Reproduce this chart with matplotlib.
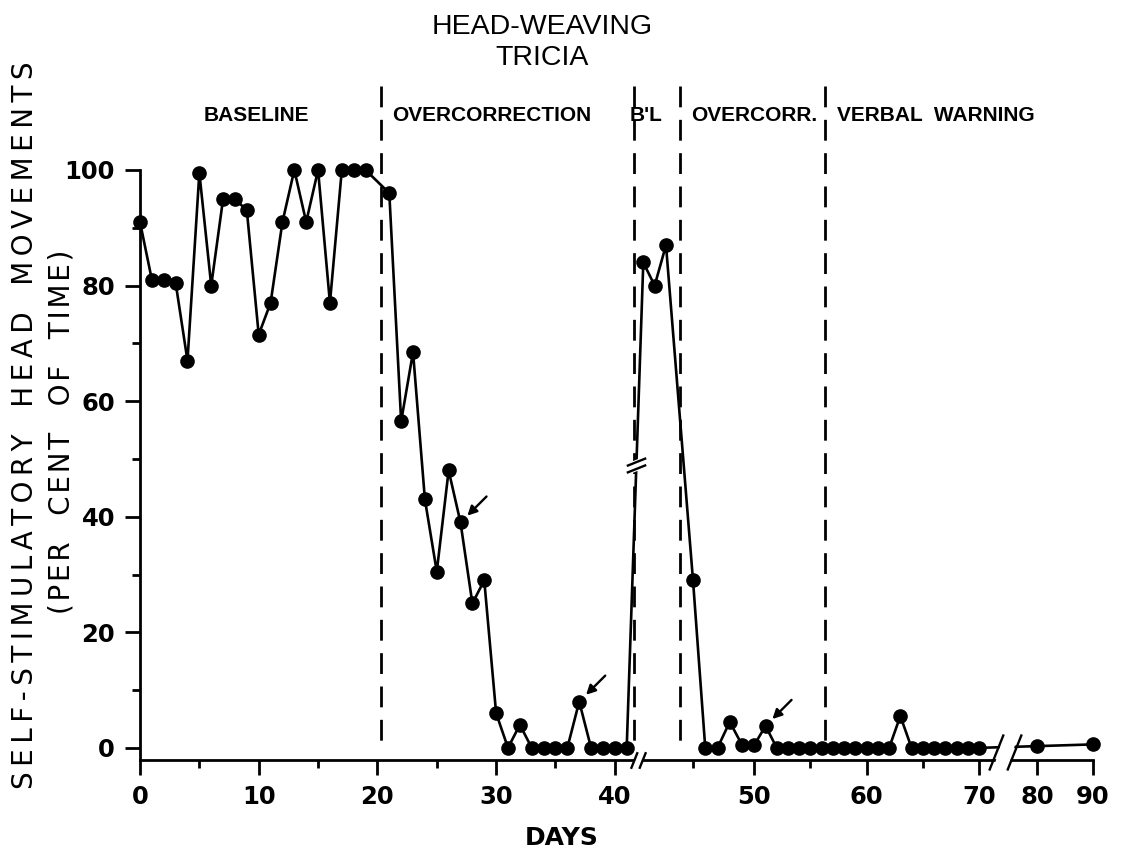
import numpy as np
import matplotlib
matplotlib.use('Agg')
import matplotlib.pyplot as plt
from matplotlib.path import Path
from matplotlib import font_manager

# ---- data ----
baseline_days = list(range(0, 20))
baseline_vals = [91, 81, 81, 80.5, 67, 99.5, 80, 95, 95, 93,
                 71.5, 77, 91, 100, 91, 100, 77, 100, 100, 100]

overcorr_days = list(range(21, 42))
overcorr_vals = [96, 56.5, 68.5, 43, 30.5, 48, 39, 25, 29, 6,
                 0, 4, 0, 0, 0, 0, 8, 0, 0, 0, 0]

bl2_days = [42, 43, 44]
bl2_vals = [84, 80, 87]

overcorr2_days = list(range(45, 57))
overcorr2_vals = [29, 0, 0, 4.5, 0.5, 0.5, 3.8, 0, 0, 0, 0, 0]

verbal_days = list(range(57, 71)) + [80, 90]
verbal_vals = [0, 0, 0, 0, 0, 0, 5.5, 0, 0, 0, 0, 0, 0, 0, 0.3, 0.6]

arrow_days = [27, 37, 51]

phase_names = ['BASELINE', 'OVERCORRECTION', "B'L", 'OVERCORR.', 'VERBAL  WARNING']
phase_label_x = [9.8, 29.6, 42.2, 50.0, 66.2]
phase_lines = [20.3, 41.45, 44.5, 56.3]

x_major = [0, 10, 20, 30, 40, 50, 60, 70, 80, 90]
x_minor = [5, 15, 25, 35, 45, 55, 65]
y_major = [0, 20, 40, 60, 80, 100]
y_minor = [10, 30, 50, 70, 90]

days = baseline_days + overcorr_days + bl2_days + overcorr2_days + verbal_days
vals = baseline_vals + overcorr_vals + bl2_vals + overcorr2_vals + verbal_vals
lookup = dict(zip(days, vals))

# broken day axis: piecewise linear (break after day 41 and after day 70)
DAY_KNOTS = [0, 41, 42, 44, 45, 50, 70, 80, 90]
POS_KNOTS = [0, 486.7, 503.3, 526, 553, 614.3, 839, 897, 953]


def fwd(d):
    return np.interp(d, DAY_KNOTS, POS_KNOTS)


def inv(p):
    return np.interp(p, POS_KNOTS, DAY_KNOTS)


def has_font(name):
    try:
        font_manager.findfont(name, fallback_to_default=False)
        return True
    except ValueError:
        return False


narrow = 'Liberation Sans Narrow' if has_font('Liberation Sans Narrow') else 'Liberation Sans'
title_size = 24 if narrow == 'Liberation Sans Narrow' else 20.5


def spaced(text, sep='\u2009', gap='   '):
    # letter-spaced words, wider gaps between words
    return gap.join(sep.join(w) for w in text.split())


plt.rcParams['lines.scale_dashes'] = False

fig = plt.figure(figsize=(11.24, 8.52), dpi=100)
ax = fig.add_axes([140 / 1124, 92 / 852, 953 / 1124, 590 / 852])
ax.set_xscale('function', functions=(fwd, inv))
ax.set_xlim(0, 90)
ax.set_ylim(-2.1, 100)

for s in ['top', 'right']:
    ax.spines[s].set_visible(False)
for s in ['left', 'bottom']:
    ax.spines[s].set_linewidth(2)

ax.plot(days, vals, '-o', color='black', lw=1.9, ms=9.5, clip_on=False, zorder=3)

# phase change lines
for x in phase_lines:
    ax.plot([x, x], [114.5, 0], color='black', lw=2, dashes=(15, 9),
            clip_on=False, zorder=2)

for name, x in zip(phase_names, phase_label_x):
    ax.text(x, 109.5, name, ha='center', va='center', fontsize=15,
            family=narrow, fontweight='bold', clip_on=False)

# arrows
for d in arrow_days:
    ax.annotate('', xy=(d, lookup[d]), xytext=(26, 26), textcoords='offset pixels',
                arrowprops=dict(arrowstyle='-|>,head_length=0.55,head_width=0.28',
                                color='black', lw=1.7, shrinkA=0, shrinkB=7))

# break marks
steep = Path([(-0.9, -1), (-0.1, 1), (0.1, -1), (0.9, 1)],
             [Path.MOVETO, Path.LINETO, Path.MOVETO, Path.LINETO])
steep_gap = Path([(-0.7, -1), (0.1, -1), (0.7, 1), (-0.1, 1), (-0.7, -1)],
                 [Path.MOVETO, Path.LINETO, Path.LINETO, Path.LINETO, Path.CLOSEPOLY])
flat = Path([(-1, -0.75), (1, 0.05), (-1, -0.05), (1, 0.75)],
            [Path.MOVETO, Path.LINETO, Path.MOVETO, Path.LINETO])
flat_gap = Path([(-0.6, -0.6), (0.6, -0.12), (0.6, 0.6), (-0.6, 0.12), (-0.6, -0.6)],
                [Path.MOVETO, Path.LINETO, Path.LINETO, Path.LINETO, Path.CLOSEPOLY])


def brk(x, y, path, gap, size):
    ax.plot([x], [y], marker=gap, ms=size, mfc='white', mec='white', mew=0,
            ls='none', clip_on=False, zorder=4)
    ax.plot([x], [y], marker=path, ms=size, mec='black', mew=1.7,
            ls='none', clip_on=False, zorder=5)


brk(41.7, -2.1, steep, steep_gap, 12)
brk(74.5, -0.8, steep, steep_gap, 26)
brk(41.58, 49, flat, flat_gap, 14)

ax.set_xticks(x_major)
ax.set_xticks(x_minor, minor=True)
ax.set_xticklabels([str(v) for v in x_major])
ax.set_yticks(y_major)
ax.set_yticks(y_minor, minor=True)
ax.tick_params(which='major', length=11, width=2, labelsize=17.5, pad=7)
ax.tick_params(which='minor', length=6, width=2)
for lab in ax.get_xticklabels() + ax.get_yticklabels():
    lab.set_fontweight('bold')

fig.text(562 / 1124, 1 - 838 / 852, 'DAYS', ha='center', va='center',
         fontsize=18, fontweight='bold')
fig.text(25 / 1124, 1 - 425 / 852, spaced('SELF-STIMULATORY HEAD MOVEMENTS'),
         rotation=90, ha='center', va='center', fontsize=20)
fig.text(62 / 1124, 1 - 432 / 852, spaced('(PER CENT OF TIME)', sep='\u200a'),
         rotation=90, ha='center', va='center', fontsize=20)
fig.text(542 / 1124, 1 - 27 / 852, 'HEAD-WEAVING', ha='center', va='center',
         fontsize=title_size, family=narrow)
fig.text(542 / 1124, 1 - 58 / 852, 'TRICIA', ha='center', va='center',
         fontsize=title_size, family=narrow)

fig.savefig('out.png', dpi=100, facecolor='white')
